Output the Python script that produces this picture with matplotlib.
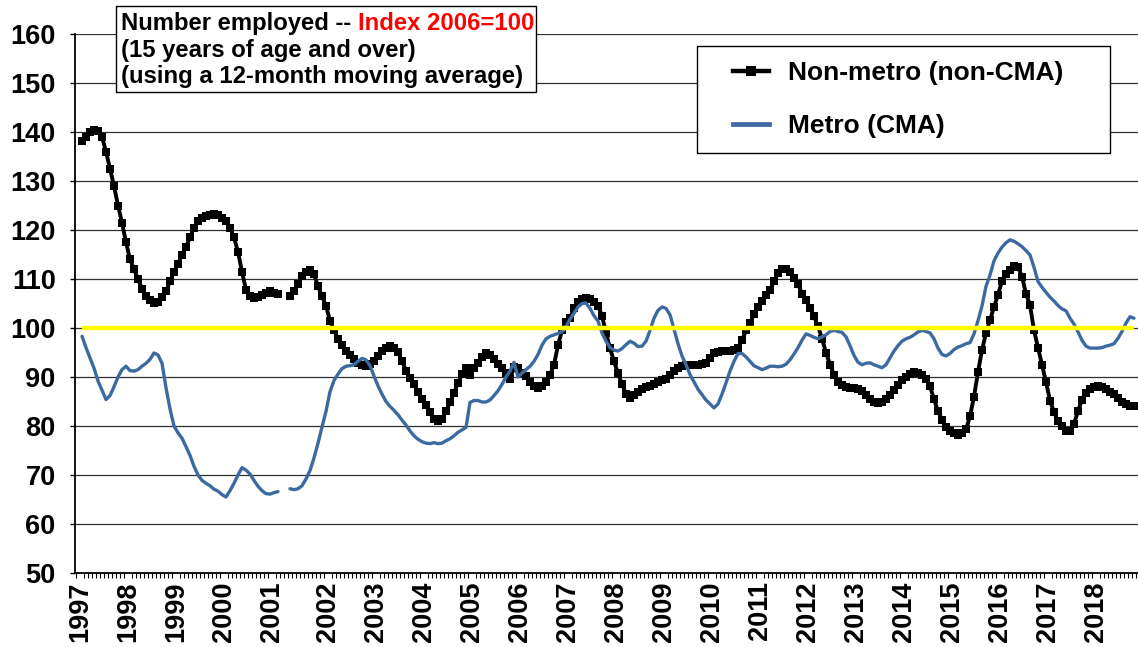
import numpy as np
import matplotlib
matplotlib.use('Agg')
import matplotlib.pyplot as plt
from matplotlib.patches import Rectangle
from matplotlib.lines import Line2D

nan = np.nan

# ---------------- data (12-month moving average, index 2006=100) ----------------
years = list(range(1997, 2019))
# index of the first category of each year in the series (two blank rows in 2001)
year_start_index = [0, 12, 24, 36, 48, 62, 74, 86, 98, 110, 122, 134, 146, 158,
                    170, 182, 194, 206, 218, 230, 242, 254]

non_metro = [
    138.1, 139.0, 140.0, 140.5, 140.3, 139.0, 136.0, 132.5, 129.0, 125.0, 121.5, 117.5,
    114.0, 112.0, 110.0, 108.0, 106.5, 105.8, 105.2, 105.4, 106.3, 107.5, 109.5, 111.5,
    113.0, 115.0, 116.6, 118.5, 120.5, 121.8, 122.4, 122.8, 123.1, 123.2, 123.0, 122.5,
    121.8, 120.5, 118.5, 115.5, 111.5, 107.8, 106.5, 106.1, 106.4, 106.8, 107.2, 107.5,
    107.2, 106.9, nan, nan, 106.5, 107.5, 109.0, 110.6, 111.5, 111.9, 111.0, 108.5,
    106.5, 104.5, 101.5, 99.5, 97.8, 96.5, 95.3, 94.5, 93.6, 92.9, 92.5, 92.2,
    92.6, 93.2, 94.3, 95.3, 96.0, 96.3, 96.0, 95.2, 93.2, 91.3, 89.8, 88.5,
    86.9, 85.5, 84.2, 82.8, 81.4, 81.0, 81.5, 83.0, 84.8, 86.8, 88.8, 90.6,
    91.9, 90.5, 91.8, 92.9, 94.0, 94.8, 94.5, 93.6, 92.7, 91.8, 90.8, 89.5,
    92.0, 91.8, 90.9, 90.3, 89.0, 88.2, 87.8, 88.1, 89.0, 90.4, 92.5, 96.5,
    99.5, 101.2, 102.0, 104.0, 105.3, 105.9, 106.1, 105.9, 105.4, 104.5, 102.5, 99.0,
    95.9, 93.2, 90.8, 88.5, 86.6, 85.8, 86.3, 87.0, 87.5, 87.9, 88.2, 88.6,
    89.0, 89.3, 89.6, 90.4, 91.3, 91.9, 92.2, 92.4, 92.5, 92.5, 92.5, 92.6,
    92.8, 93.8, 94.8, 95.2, 95.4, 95.4, 95.4, 95.5, 95.9, 97.5, 99.5, 101.0,
    102.8, 104.2, 105.5, 106.8, 107.8, 109.5, 111.2, 112.1, 112.0, 111.5, 110.2, 109.0,
    107.0, 105.7, 104.1, 102.4, 100.4, 97.8, 95.0, 92.5, 90.5, 89.0, 88.3, 88.0,
    87.8, 87.7, 87.5, 87.2, 86.4, 85.6, 84.8, 84.6, 85.0, 85.6, 86.3, 87.3,
    88.4, 89.4, 90.1, 90.6, 91.0, 90.9, 90.5, 89.6, 88.1, 85.5, 83.0, 81.3,
    79.8, 78.9, 78.5, 78.2, 78.5, 79.3, 82.0, 86.0, 91.0, 95.5, 99.0, 101.6,
    104.3, 106.8, 109.6, 111.0, 111.8, 112.6, 112.5, 110.5, 107.0, 104.7, 99.5, 96.0,
    92.5, 89.0, 85.2, 82.8, 81.0, 80.0, 79.0, 79.0, 80.5, 83.0, 85.4, 86.8,
    87.6, 88.0, 88.2, 88.0, 87.5, 87.0, 86.5, 85.8, 85.0, 84.5, 84.0, 84.0,
]

metro = [
    98.3, 96.0, 93.9, 91.8, 89.2, 87.3, 85.4, 86.2, 88.0, 90.0, 91.5, 92.2,
    91.3, 91.2, 91.5, 92.2, 92.8, 93.6, 94.9, 94.5, 92.8, 87.8, 83.5, 80.0,
    78.6, 77.5, 75.8, 74.0, 71.8, 70.0, 68.9, 68.3, 67.8, 67.1, 66.7, 66.0,
    65.5, 66.8, 68.3, 70.0, 71.5, 71.0, 70.2, 68.9, 67.7, 66.8, 66.2, 66.1,
    66.4, 66.6, nan, nan, 67.2, 67.0, 67.2, 67.8, 69.2, 70.9, 73.5, 76.5,
    79.8, 83.0, 87.0, 89.3, 90.6, 91.7, 92.2, 92.3, 92.5, 93.2, 93.8, 93.5,
    92.3, 90.2, 88.2, 86.5, 85.0, 84.0, 83.2, 82.3, 81.2, 80.2, 79.0, 78.0,
    77.3, 76.8, 76.5, 76.4, 76.6, 76.4, 76.5, 77.0, 77.4, 78.0, 78.7, 79.2,
    79.7, 84.8, 85.2, 85.2, 84.9, 84.9, 85.3, 86.2, 87.2, 88.5, 90.0, 91.2,
    93.0, 90.0, 90.8, 91.5, 92.2, 93.2, 94.6, 96.5, 97.8, 98.3, 98.6, 98.9,
    99.2, 100.2, 101.8, 103.0, 104.3, 105.0, 105.1, 104.0, 102.5, 101.4, 99.0, 97.3,
    96.0, 95.5, 95.3, 95.8, 96.6, 97.3, 96.9, 96.2, 96.3, 97.3, 99.5, 102.0,
    103.6, 104.3, 104.0, 102.7, 99.8, 96.8, 94.3, 92.5, 90.5, 89.0, 87.5, 86.4,
    85.3, 84.5, 83.7, 84.5, 86.5, 88.8, 91.2, 93.2, 94.8, 94.8, 94.1, 93.2,
    92.3, 91.9, 91.5, 91.8, 92.2, 92.2, 92.1, 92.2, 92.6, 93.5, 94.7, 96.0,
    97.5, 98.8, 98.5, 98.1, 97.8, 98.2, 98.6, 99.3, 99.5, 99.3, 99.1, 98.2,
    96.4, 94.4, 93.0, 92.5, 92.8, 92.9, 92.5, 92.2, 91.9, 92.5, 93.9, 95.3,
    96.4, 97.3, 97.8, 98.1, 98.6, 99.2, 99.5, 99.3, 99.0, 97.8, 95.9, 94.6,
    94.3, 94.8, 95.6, 96.1, 96.4, 96.8, 97.0, 98.8, 101.5, 104.5, 108.5, 110.8,
    113.7, 115.3, 116.5, 117.4, 118.0, 117.7, 117.2, 116.6, 115.8, 114.9, 112.4, 109.5,
    108.3, 107.3, 106.3, 105.5, 104.6, 103.9, 103.5, 102.0, 100.8, 99.2, 97.5, 96.3,
    95.9, 95.9, 95.9, 96.0, 96.3, 96.5, 96.8, 97.9, 99.3, 101.0, 102.3, 102.0,
]

index_base = 100
series_labels = ['Non-metro (non-CMA)', 'Metro (CMA)']

# ---------------- figure ----------------
W, H = 1138, 647
plt.rcParams['font.family'] = ['Liberation Sans', 'DejaVu Sans']
fig = plt.figure(figsize=(W / 100, H / 100), dpi=100)


def fx(px):
    return px / W


def fy(py):
    return 1 - py / H


BLUE = '#3c6aa0'

ax = fig.add_axes([fx(75), fy(573), fx(1138) - fx(75), fy(34) - fy(573)])
x = np.arange(len(non_metro))

ax.plot(x, non_metro, color='black', lw=2.8, marker='s', ms=5.6, mew=0,
        zorder=3, label=series_labels[0])
ax.plot(x, metro, color=BLUE, lw=2.4, zorder=4, label=series_labels[1],
        solid_capstyle='round')
ax.hlines(index_base, x[0], x[-1], color='#ffff00', lw=3.2, zorder=5)

ax.set_xlim(-1.75, 264)
ax.set_ylim(50, 160)
ax.set_yticks(np.arange(50, 161, 10))
ax.yaxis.grid(True, color='#303030', lw=0.9)
ax.set_axisbelow(True)

for s in ['top', 'right']:
    ax.spines[s].set_visible(False)
for s in ['left', 'bottom']:
    ax.spines[s].set_color('black')
    ax.spines[s].set_linewidth(1.3)

ax.set_xticks(np.array(year_start_index) - 0.5)
ax.set_xticklabels([str(y) for y in years], rotation=90, fontweight='bold',
                   fontsize=19.5)
ax.set_xticks(np.arange(-1.5, 264, 1.0), minor=True)
ax.tick_params(axis='x', which='major', length=0, pad=6)
ax.tick_params(axis='x', which='minor', length=3.8, width=0.8, color='black')
ax.tick_params(axis='y', length=3.9, width=1, pad=10, labelsize=19.5)
for lab in ax.get_yticklabels():
    lab.set_fontweight('bold')

# ---------------- title box ----------------
fig.add_artist(Rectangle((fx(116), fy(92)), fx(536) - fx(116), fy(6) - fy(92),
                         transform=fig.transFigure, facecolor='white',
                         edgecolor='black', lw=1.0, zorder=2))
tsize = 17.2
t1 = fig.text(fx(121), fy(30), 'Number employed --', fontsize=tsize,
              fontweight='bold', va='baseline', ha='left', zorder=3)
fig.canvas.draw()
bb = t1.get_window_extent(fig.canvas.get_renderer())
space_px = 0.278 * tsize * 100 / 72
fig.text((bb.x1 + space_px) / W, fy(30), 'Index 2006=100', fontsize=tsize,
         fontweight='bold', va='baseline', ha='left', color='#ff0000', zorder=3)
fig.text(fx(121), fy(57), '(15 years of age and over)', fontsize=tsize,
         fontweight='bold', va='baseline', ha='left', zorder=3)
fig.text(fx(121), fy(83), '(using a 12-month moving average)', fontsize=tsize,
         fontweight='bold', va='baseline', ha='left', zorder=3)

# ---------------- legend ----------------
fig.add_artist(Rectangle((fx(697), fy(153)), fx(1110) - fx(697), fy(46) - fy(153),
                         transform=fig.transFigure, facecolor='white',
                         edgecolor='black', lw=1.0, zorder=2))
handles = [Line2D([], [], color='black', lw=3.2, marker='s', ms=6.5, mew=0),
           Line2D([], [], color=BLUE, lw=3.4)]
leg = fig.legend(handles, series_labels, loc='upper left',
                 bbox_to_anchor=(fx(733), fy(61)), frameon=False, borderpad=0,
                 borderaxespad=0, handlelength=1.36, handletextpad=0.72,
                 labelspacing=1.1, numpoints=1,
                 prop={'weight': 'bold', 'size': 19})
leg.set_zorder(4)

fig.savefig('out.png', dpi=100)
